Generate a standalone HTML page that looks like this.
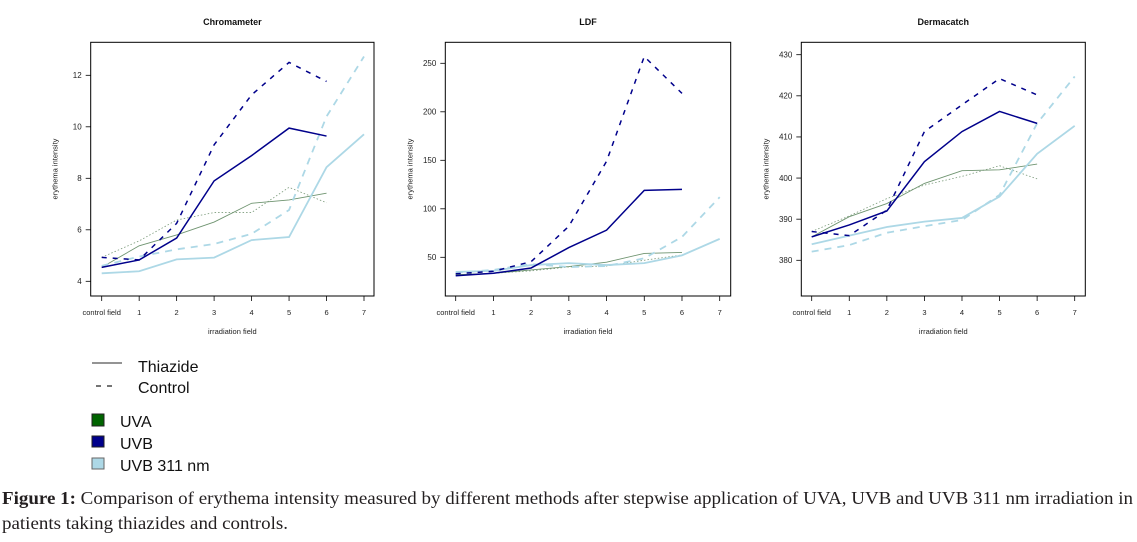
<!DOCTYPE html>
<html><head><meta charset="utf-8"><style>
body{margin:0;background:#fff;width:1137px;height:537px;overflow:hidden}
svg text{font-family:"Liberation Sans",sans-serif}
.cap{font-family:"Liberation Serif",serif;font-size:17.5px;fill:#231f20}
</style></head><body>
<svg id="fig" width="1137" height="537" xmlns="http://www.w3.org/2000/svg">
<g id="charts"></g>
<g>
<line x1="92" y1="363" x2="122" y2="363" stroke="#555" stroke-width="1.3"/>
<text x="138" y="372" font-size="16" fill="#111">Thiazide</text>
<line x1="96" y1="386" x2="114" y2="386" stroke="#222" stroke-width="1.3" stroke-dasharray="5,6"/>
<text x="138" y="393" font-size="16" fill="#111">Control</text>
<rect x="92" y="414" width="12" height="12" fill="#006400" stroke="#222"/>
<text x="120" y="427" font-size="16" fill="#111">UVA</text>
<rect x="92" y="436" width="12" height="11" fill="#00008B" stroke="#222"/>
<text x="120" y="449" font-size="16" fill="#111">UVB</text>
<rect x="92" y="458" width="12" height="11" fill="#ADD8E6" stroke="#666"/>
<text x="120" y="471" font-size="16" fill="#111">UVB 311 nm</text>
</g>
<text class="cap" x="2" y="504" textLength="1131" lengthAdjust="spacingAndGlyphs"><tspan font-weight="bold">Figure 1:</tspan> Comparison of erythema intensity measured by different methods after stepwise application of UVA, UVB and UVB 311 nm irradiation in</text>
<text class="cap" x="2" y="529" textLength="286" lengthAdjust="spacingAndGlyphs">patients taking thiazides and controls.</text>
</svg>
<script>
const categories=["control field","1","2","3","4","5","6","7"];
// Chromameter
const chromTicks=[4,6,8,10,12];
const chromUVBThz=[4.54,4.83,5.68,7.9,8.88,9.95,9.64];
const chromUVBCtl=[4.93,4.83,6.25,9.3,11.24,12.5,11.76];
const chromUVAThz=[4.54,5.38,5.8,6.3,7.03,7.16,7.42];
const chromUVACtl=[4.93,5.57,6.38,6.67,6.67,7.65,7.05];
const chrom311Thz=[4.31,4.39,4.85,4.92,5.6,5.72,8.43,9.71];
const chrom311Ctl=[4.6,4.96,5.24,5.45,5.84,6.77,10.4,12.73];
// LDF
const ldfTicks=[50,100,150,200,250];
const ldfUVBThz=[31,33.5,39,60,78,119,120];
const ldfUVBCtl=[33,35.6,45.5,82,149,257,219];
const ldfUVAThz=[32,33.5,37,40.5,45,54,55];
const ldfUVACtl=[32,33.5,36,40,41,47,52.4];
const ldf311Thz=[35,36,42,44,42,44,52,69];
const ldf311Ctl=[34,37,43,40,41,49,71,112];
// Dermacatch
const derTicks=[380,390,400,410,420,430];
const derUVBThz=[385.7,388.6,392,404,411.3,416.2,413.3];
const derUVBCtl=[387,386,392.2,411.3,417.8,424.2,420.2];
const derUVAThz=[385.7,390.6,393.8,398.7,401.8,402,403.4];
const derUVACtl=[387,390.8,395,398.3,400.4,403,399.8];
const der311Thz=[383.9,386,388.1,389.4,390.3,395.5,405.9,412.7];
const der311Ctl=[382.1,383.7,386.7,388.3,389.8,395.9,413.3,424.7];

const NS="http://www.w3.org/2000/svg";
const root=document.getElementById('charts');
function mk(tag,attrs,parent){const e=document.createElementNS(NS,tag);for(const k in attrs)e.setAttribute(k,attrs[k]);parent.appendChild(e);return e;}
function chart(cfg){
  const g=mk('g',{},root);
  
  
  const xS=i=>cfg.x0+i*(cfg.x7-cfg.x0)/7;
  const yS=v=>cfg.ya+(v-cfg.va)*(cfg.yb-cfg.ya)/(cfg.vb-cfg.va);
  const t=mk('text',{x:(cfg.bl+cfg.br)/2,y:25,'font-size':9,'font-weight':'bold','text-anchor':'middle',fill:'#111'},g);
  t.textContent=cfg.title;
  
  
  const box=mk('rect',{x:cfg.bl,y:42.3,width:cfg.br-cfg.bl,height:296-42.3,fill:'none',stroke:'#000','stroke-width':1},g);
  
  
  categories.forEach((c,i)=>{
    mk('line',{x1:xS(i),x2:xS(i),y1:296,y2:301,stroke:'#000','stroke-width':0.8},g);
    const l=mk('text',{x:xS(i),y:315,'font-size':7.5,'text-anchor':'middle',fill:'#222'},g);
    l.textContent=c;
    
    
  });
  cfg.ticks.forEach(v=>{
    mk('line',{x1:cfg.bl-5,x2:cfg.bl,y1:yS(v),y2:yS(v),stroke:'#000','stroke-width':0.8},g);
    const l=mk('text',{x:cfg.bl-9,y:yS(v)+2.8,'font-size':8,'text-anchor':'end',fill:'#222'},g);
    l.textContent=v;
    
    
  });
  const xt=mk('text',{x:(cfg.bl+cfg.br)/2,y:334,'font-size':7.5,'text-anchor':'middle',fill:'#222'},g);
  xt.textContent='irradiation field';
  
  
  const yt=mk('text',{x:0,y:0,'font-size':7.5,'text-anchor':'middle',fill:'#222',transform:`translate(${cfg.bl-33},169) rotate(-90)`},g);
  yt.textContent='erythema intensity';
  
  
  cfg.series.forEach(s=>{
    const p=mk('polyline',{points:s.d.map((v,i)=>xS(i)+','+yS(v)).join(' '),fill:'none',stroke:s.c,'stroke-width':s.w,'stroke-dasharray':s.da||'none'},g);
    
    
  });
}
const NAVY='#00008B',LB='#ADD8E6',GR='#6f9470';
function ser(a,b,c,d,e,f){return [
 {n:'uva-control-line',d:d,c:'#7a9a7a',w:0.8,da:'1.5,2'},
 {n:'uva-thiazide-line',d:c,c:GR,w:0.9},
 {n:'uvb311-control-line',d:f,c:LB,w:1.8,da:'7,6'},
 {n:'uvb311-thiazide-line',d:e,c:LB,w:1.8},
 {n:'uvb-control-line',d:b,c:NAVY,w:1.5,da:'5,6'},
 {n:'uvb-thiazide-line',d:a,c:NAVY,w:1.5}];}
chart({name:'chromameter-chart',title:'Chromameter',bl:90.7,br:374,x0:101.7,x7:364,va:12,ya:75.3,vb:4,yb:281.3,ticks:chromTicks,
 series:ser(chromUVBThz,chromUVBCtl,chromUVAThz,chromUVACtl,chrom311Thz,chrom311Ctl)});
chart({name:'ldf-chart',title:'LDF',bl:445.3,br:730.7,x0:455.7,x7:719.7,va:250,ya:63.3,vb:50,yb:257.3,ticks:ldfTicks,
 series:ser(ldfUVBThz,ldfUVBCtl,ldfUVAThz,ldfUVACtl,ldf311Thz,ldf311Ctl)});
chart({name:'dermacatch-chart',title:'Dermacatch',bl:801.3,br:1085.3,x0:811.7,x7:1074.7,va:430,ya:54.7,vb:380,yb:260.3,ticks:derTicks,
 series:ser(derUVBThz,derUVBCtl,derUVAThz,derUVACtl,der311Thz,der311Ctl)});
</script>
</body></html>
